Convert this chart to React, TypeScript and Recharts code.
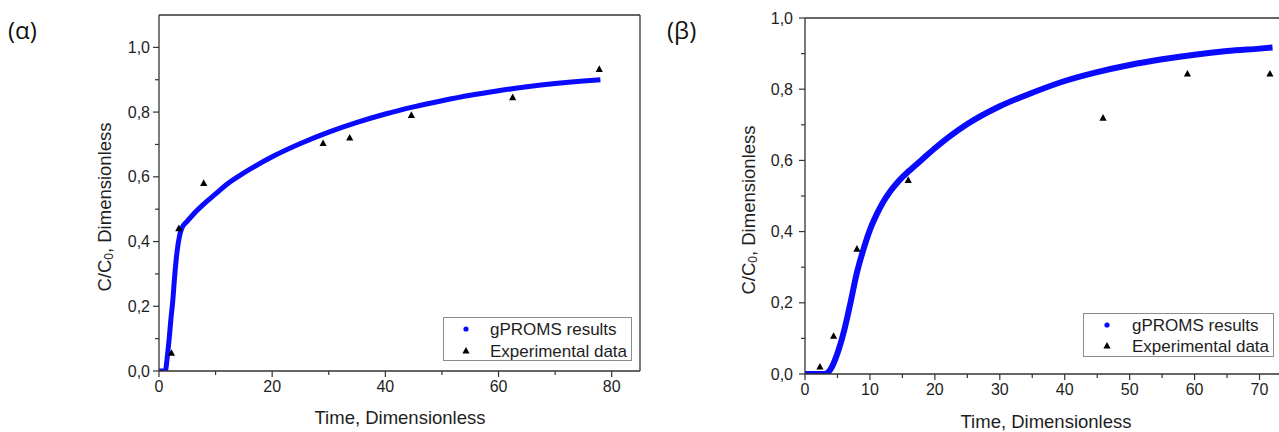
import React from 'react';
import { ComposedChart, Line, Scatter, XAxis, YAxis, ReferenceLine, Legend } from 'recharts';

const FONT = '"Liberation Sans", Arial, sans-serif';
const BLUE = '#0a0aff';
const AXIS = '#333';
const TEXT = '#1e1e1e';

// (α) panel
const alphaModelX = [0, 1.1, 1.5, 1.8, 2.1, 2.4, 2.8, 3.2, 3.6, 4.0, 5, 6, 8, 10, 12, 15, 20, 25, 30, 35, 40, 45, 50, 55, 60, 65, 70, 75, 78];
const alphaModelY = [0, 0, 0.05, 0.1, 0.16, 0.21, 0.3, 0.37, 0.415, 0.44, 0.463, 0.483, 0.517, 0.547, 0.577, 0.612, 0.662, 0.703, 0.738, 0.768, 0.794, 0.816, 0.835, 0.852, 0.866, 0.878, 0.888, 0.896, 0.9];
const alphaExpX = [2.2, 3.5, 7.9, 29, 33.7, 44.6, 62.5, 77.8];
const alphaExpY = [0.055, 0.44, 0.58, 0.703, 0.72, 0.79, 0.845, 0.932];
const alphaXTicks = [0, 10, 20, 30, 40, 50, 60, 70, 80];
const alphaYTicks = [0, 0.1, 0.2, 0.3, 0.4, 0.5, 0.6, 0.7, 0.8, 0.9, 1.0];

// (β) panel
const betaModelX = [0, 3, 4, 5, 6, 7, 8, 9, 10, 11, 12, 13, 14, 15, 16, 18, 20, 25, 30, 35, 40, 45, 50, 55, 60, 65, 70, 72];
const betaModelY = [0, 0, 0.015, 0.058, 0.12, 0.2, 0.285, 0.35, 0.405, 0.447, 0.482, 0.51, 0.533, 0.553, 0.57, 0.602, 0.634, 0.702, 0.752, 0.79, 0.823, 0.848, 0.868, 0.884, 0.897, 0.907, 0.914, 0.917];
const betaExpX = [2.3, 4.4, 8, 15.9, 45.9, 58.9, 71.6];
const betaExpY = [0.02, 0.106, 0.351, 0.544, 0.719, 0.843, 0.843];
const betaXTicks = [0, 5, 10, 15, 20, 25, 30, 35, 40, 45, 50, 55, 60, 65, 70];
const betaYTicks = [0, 0.1, 0.2, 0.3, 0.4, 0.5, 0.6, 0.7, 0.8, 0.9, 1.0];

const zip = (xs: number[], ys: number[]) => xs.map((x, i) => ({ x, y: ys[i] }));

const alphaModel = zip(alphaModelX, alphaModelY);
const alphaExp = zip(alphaExpX, alphaExpY);
const betaModel = zip(betaModelX, betaModelY);
const betaExp = zip(betaExpX, betaExpY);

const fmtY = (v: number) => v.toFixed(1).replace('.', ',');

const makeXTick = (majorStep: number) => (props: any) => {
  const { x, y, payload } = props;
  const major = Math.round(payload.value) % majorStep === 0;
  return (
    <g>
      <line x1={x} x2={x} y1={y} y2={y + (major ? 6 : 4)} stroke={AXIS} strokeWidth={1.2} />
      {major && (
        <text x={x} y={y + 21} textAnchor="middle" fontSize={16} fill={TEXT} fontFamily={FONT}>
          {payload.value}
        </text>
      )}
    </g>
  );
};

const makeYTick = (gap: number) => (props: any) => {
  const { x, y, payload } = props;
  const major = Math.round(payload.value * 10) % 2 === 0;
  return (
    <g>
      <line x1={x} x2={x - (major ? 6 : 4)} y1={y} y2={y} stroke={AXIS} strokeWidth={1.2} />
      {major && (
        <text x={x - gap} y={y + 5.5} textAnchor="end" fontSize={16} fill={TEXT} fontFamily={FONT}>
          {fmtY(payload.value)}
        </text>
      )}
    </g>
  );
};

const Triangle = (props: any) => {
  const { cx, cy } = props;
  return <path d={`M${cx},${cy - 4} L${cx + 3.6},${cy + 2.6} L${cx - 3.6},${cy + 2.6} Z`} fill="#000" />;
};

const yTitle = (cx: number, cy: number) => () => (
  <text
    x={cx}
    y={cy}
    transform={`rotate(-90 ${cx} ${cy})`}
    textAnchor="middle"
    dominantBaseline="central"
    fontSize={18.5}
    fill={TEXT}
    fontFamily={FONT}
  >
    C/C<tspan fontSize={12} dy={5}>0</tspan>
    <tspan dy={-5}>, Dimensionless</tspan>
  </text>
);

const xTitle = (cx: number, by: number) => () => (
  <text x={cx} y={by} textAnchor="middle" fontSize={18.5} fill={TEXT} fontFamily={FONT}>
    Time, Dimensionless
  </text>
);

const LegendBox = ({ w, h, ix, tx, y1, y2 }: any) => (
  <svg width={w} height={h} style={{ display: 'block' }}>
    <rect x={0.5} y={0.5} width={w - 1} height={h - 1} fill="#fff" stroke="#8c8c8c" />
    <circle cx={ix} cy={y1} r={2.6} fill={BLUE} />
    <text x={tx} y={y1 + 6} fontSize={17} fill={TEXT} fontFamily={FONT}>gPROMS results</text>
    <path d={`M${ix},${y2 - 4} L${ix + 3.6},${y2 + 2.6} L${ix - 3.6},${y2 + 2.6} Z`} fill="#000" />
    <text x={tx} y={y2 + 6} fontSize={17} fill={TEXT} fontFamily={FONT}>Experimental data</text>
  </svg>
);

const panelLabel: React.CSSProperties = {
  position: 'absolute',
  top: 15,
  fontFamily: '"Open Sans", "Noto Sans", sans-serif',
  fontSize: 24,
  color: '#111',
  lineHeight: '30px',
};

export default function App() {
  return (
    <div style={{ position: 'absolute', left: 0, top: 0, width: 1279, height: 432, background: '#fff', fontFamily: FONT }}>
      <div style={{ ...panelLabel, left: 8 }}>(α)</div>
      <div style={{ ...panelLabel, left: 667 }}>(β)</div>

      <div style={{ position: 'absolute', left: 0, top: 0 }}>
        <ComposedChart width={660} height={432} margin={{ top: 15, right: 20, left: 0, bottom: 0 }}>
          <XAxis
            dataKey="x"
            type="number"
            domain={[0, 85]}
            ticks={alphaXTicks}
            interval={0}
            height={61}
            tickSize={0}
            tickMargin={0}
            tickLine={false}
            axisLine={{ stroke: AXIS, strokeWidth: 1.3 }}
            tick={makeXTick(20)}
            allowDataOverflow
            label={{ content: xTitle(400, 424) }}
          />
          <YAxis
            dataKey="y"
            type="number"
            domain={[0, 1.1]}
            ticks={alphaYTicks}
            interval={0}
            width={159}
            tickSize={0}
            tickMargin={0}
            tickLine={false}
            axisLine={{ stroke: AXIS, strokeWidth: 1.3 }}
            tick={makeYTick(9)}
            allowDataOverflow
            label={{ content: yTitle(104, 207) }}
          />
          <ReferenceLine y={1.1} stroke={AXIS} strokeWidth={1.3} />
          <ReferenceLine x={85} stroke={AXIS} strokeWidth={1.3} />
          <Line
            data={alphaModel}
            dataKey="y"
            type="monotone"
            stroke={BLUE}
            strokeWidth={5}
            dot={false}
            isAnimationActive={false}
          />
          <Scatter data={alphaExp} dataKey="y" shape={Triangle} fill="#000" isAnimationActive={false} />
          <Legend
            layout="horizontal"
            verticalAlign="middle"
            align="center"
            wrapperStyle={{ left: 443, top: 317, width: 189, height: 44 }}
            content={() => <LegendBox w={189} h={44} ix={23} tx={47} y1={12} y2={34} />}
          />
        </ComposedChart>
      </div>

      <div style={{ position: 'absolute', left: 660, top: 0 }}>
        <ComposedChart width={619} height={432} margin={{ top: 18, right: 0, left: 0, bottom: 0 }}>
          <XAxis
            dataKey="x"
            type="number"
            domain={[0, 73]}
            ticks={betaXTicks}
            interval={0}
            height={58}
            tickSize={0}
            tickMargin={0}
            tickLine={false}
            axisLine={{ stroke: AXIS, strokeWidth: 1.3 }}
            tick={makeXTick(10)}
            allowDataOverflow
            label={{ content: xTitle(386, 428) }}
          />
          <YAxis
            dataKey="y"
            type="number"
            domain={[0, 1]}
            ticks={betaYTicks}
            interval={0}
            width={145}
            tickSize={0}
            tickMargin={0}
            tickLine={false}
            axisLine={{ stroke: AXIS, strokeWidth: 1.3 }}
            tick={makeYTick(12)}
            allowDataOverflow
            label={{ content: yTitle(88, 210) }}
          />
          <ReferenceLine y={1} stroke={AXIS} strokeWidth={1.3} />
          <Line
            data={betaModel}
            dataKey="y"
            type="monotone"
            stroke={BLUE}
            strokeWidth={6}
            dot={false}
            isAnimationActive={false}
          />
          <Scatter data={betaExp} dataKey="y" shape={Triangle} fill="#000" isAnimationActive={false} />
          <Legend
            layout="horizontal"
            verticalAlign="middle"
            align="center"
            wrapperStyle={{ left: 423, top: 313, width: 191, height: 44 }}
            content={() => <LegendBox w={191} h={44} ix={24} tx={49} y1={12} y2={33} />}
          />
        </ComposedChart>
      </div>
    </div>
  );
}
